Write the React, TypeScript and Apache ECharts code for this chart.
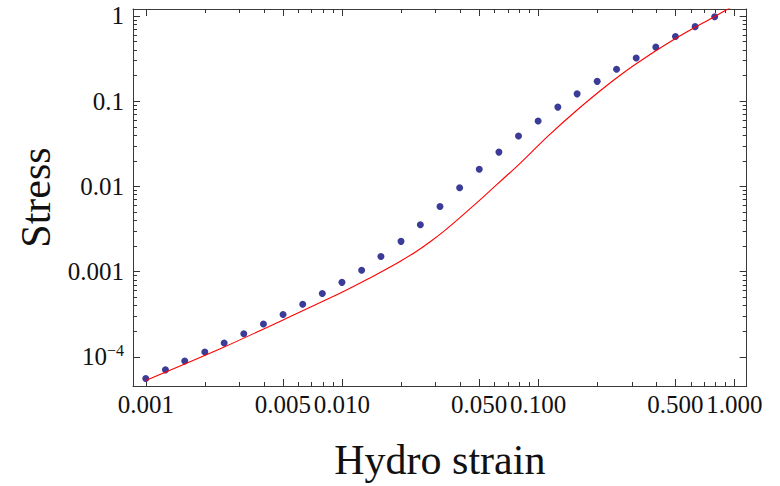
import React, { useEffect, useRef } from "react";
import * as echarts from "echarts";

// Measured data points (hydro strain vs stress)
const strain = [
  0.001, 0.00126, 0.00158, 0.002, 0.00251, 0.00316, 0.00398, 0.00501, 0.00631, 0.00794,
  0.01, 0.0126, 0.0158, 0.02, 0.0251, 0.0316, 0.0398, 0.0501, 0.0631, 0.0794,
  0.1, 0.126, 0.158, 0.2, 0.251, 0.316, 0.398, 0.501, 0.631, 0.794,
];
const stress = [
  5.58e-5, 7.05e-5, 8.97e-5, 1.14e-4, 1.46e-4, 1.87e-4, 2.43e-4, 3.15e-4, 4.15e-4, 5.55e-4,
  7.5e-4, 1.04e-3, 1.51e-3, 2.27e-3, 3.56e-3, 5.81e-3, 9.68e-3, 0.0159, 0.0253, 0.0391,
  0.0585, 0.0853, 0.122, 0.171, 0.237, 0.321, 0.431, 0.574, 0.75, 0.981,
];

// Model curve (red line)
const fitStrain = [
  0.001, 0.002512, 0.005012, 0.01, 0.01413, 0.01679, 0.01995, 0.02371, 0.02818, 0.0335,
  0.03981, 0.04732, 0.05623, 0.06683, 0.07943, 0.1122, 0.1585, 0.2239, 0.3162, 0.5012,
  0.7943, 1.122,
];
const fitStress = [
  5.3e-5, 1.309e-4, 2.72e-4, 5.73e-4, 8.61e-4, 1.067e-3, 1.337e-3, 1.704e-3, 2.246e-3, 3.055e-3,
  4.276e-3, 6.067e-3, 8.69e-3, 0.01249, 0.01795, 0.0389, 0.0794, 0.1531, 0.2754, 0.5433,
  0.9886, 1.549,
];

// Ticks
const xMajorTicks = [0.001, 0.005, 0.01, 0.05, 0.1, 0.5, 1];
const xMajorLabels = ["0.001", "0.005", "0.010", "0.050", "0.100", "0.500", "1.000"];
const xMinorTicks = [
  0.002, 0.003, 0.004, 0.006, 0.007, 0.008, 0.009,
  0.02, 0.03, 0.04, 0.06, 0.07, 0.08, 0.09,
  0.2, 0.3, 0.4, 0.6, 0.7, 0.8, 0.9,
];
const yMajorTicks = [0.0001, 0.001, 0.01, 0.1, 1];
const yMajorLabels = ["10{sup|−4}", "0.001", "0.01", "0.1", "1"];
const yMinorTicks = [
  0.0002, 0.0003, 0.0004, 0.0005, 0.0006, 0.0007, 0.0008, 0.0009,
  0.002, 0.003, 0.004, 0.005, 0.006, 0.007, 0.008, 0.009,
  0.02, 0.03, 0.04, 0.05, 0.06, 0.07, 0.08, 0.09,
  0.2, 0.3, 0.4, 0.5, 0.6, 0.7, 0.8, 0.9,
];

const X_MIN = -3.065;
const X_MAX = 0.063;
const Y_MIN = -4.341;
const Y_MAX = 0.082;

const FONT = "'Liberation Serif', 'DejaVu Serif', 'Times New Roman', serif";
const LINE_COLOR = "#3a3a3a";
const TICK_COLOR = "#333";

function labelFor(value: number, ticks: number[], labels: string[]): string {
  for (let i = 0; i < ticks.length; i++) {
    if (Math.abs(Math.log10(ticks[i]) - value) < 1e-6) return labels[i];
  }
  return "";
}

function makeAxis(
  kind: "x" | "y",
  position: string,
  ticks: number[],
  tickLen: number,
  showLine: boolean,
  labels?: string[],
  extra?: any
) {
  const isX = kind === "x";
  return {
    type: "value",
    gridIndex: 0,
    position,
    offset: 0,
    min: isX ? X_MIN : Y_MIN,
    max: isX ? X_MAX : Y_MAX,
    axisLine: { show: showLine, onZero: false, lineStyle: { color: LINE_COLOR, width: 1 } },
    splitLine: { show: false },
    axisTick: {
      show: true,
      inside: true,
      length: tickLen,
      lineStyle: { color: TICK_COLOR, width: 1 },
      customValues: ticks.map((t) => Math.log10(t)),
    },
    axisLabel: labels
      ? {
          show: true,
          customValues: ticks.map((t) => Math.log10(t)),
          formatter: (v: number) => labelFor(v, ticks, labels),
          fontFamily: FONT,
          fontSize: 25,
          color: "#111",
          margin: isX ? 6 : 9,
          rich: {
            sup: { fontFamily: FONT, fontSize: 16, color: "#111", verticalAlign: "top", padding: [0, 0, 12, 0] },
          },
        }
      : { show: false },
    ...(extra || {}),
  };
}

export default function App() {
  const ref = useRef<HTMLDivElement>(null);

  useEffect(() => {
    if (!ref.current) return;
    const chart = echarts.init(ref.current, undefined, { renderer: "svg" });

    const points = strain.map((x, i) => [Math.log10(x), Math.log10(stress[i])]);
    const curve = fitStrain.map((x, i) => [Math.log10(x), Math.log10(fitStress[i])]);

    const nameStyle = { fontFamily: FONT, fontSize: 42, color: "#111", verticalAlign: "middle" };

    chart.setOption({
      animation: false,
      backgroundColor: "#ffffff",
      grid: { left: 133, right: 33.3, top: 9, bottom: 97.7, containLabel: false },
      xAxis: [
        makeAxis("x", "bottom", xMajorTicks, 7, true, xMajorLabels, {
          name: "Hydro strain",
          nameLocation: "middle",
          nameGap: 74,
          nameTextStyle: nameStyle,
        }),
        makeAxis("x", "bottom", xMinorTicks, 4, false),
        makeAxis("x", "top", xMajorTicks, 7, true),
        makeAxis("x", "top", xMinorTicks, 4, false),
      ],
      yAxis: [
        makeAxis("y", "left", yMajorTicks, 7, true, yMajorLabels, {
          name: "Stress",
          nameLocation: "middle",
          nameGap: 97,
          nameTextStyle: nameStyle,
        }),
        makeAxis("y", "left", yMinorTicks, 4, false),
        makeAxis("y", "right", yMajorTicks, 7, true),
        makeAxis("y", "right", yMinorTicks, 4, false),
      ],
      series: [
        {
          type: "scatter",
          xAxisIndex: 0,
          yAxisIndex: 0,
          data: points,
          symbol: "circle",
          symbolSize: 7,
          itemStyle: { color: "#3b3b98", opacity: 1 },
          z: 2,
        },
        {
          type: "line",
          xAxisIndex: 0,
          yAxisIndex: 0,
          data: curve,
          smooth: 0.3,
          showSymbol: false,
          symbol: "none",
          clip: true,
          lineStyle: { color: "#ff0000", width: 1.1 },
          z: 3,
        },
      ],
    });

    return () => {
      chart.dispose();
    };
  }, []);

  return (
    <div
      ref={ref}
      style={{ position: "fixed", left: 0, top: 0, width: 780, height: 486, background: "#fff" }}
    />
  );
}
